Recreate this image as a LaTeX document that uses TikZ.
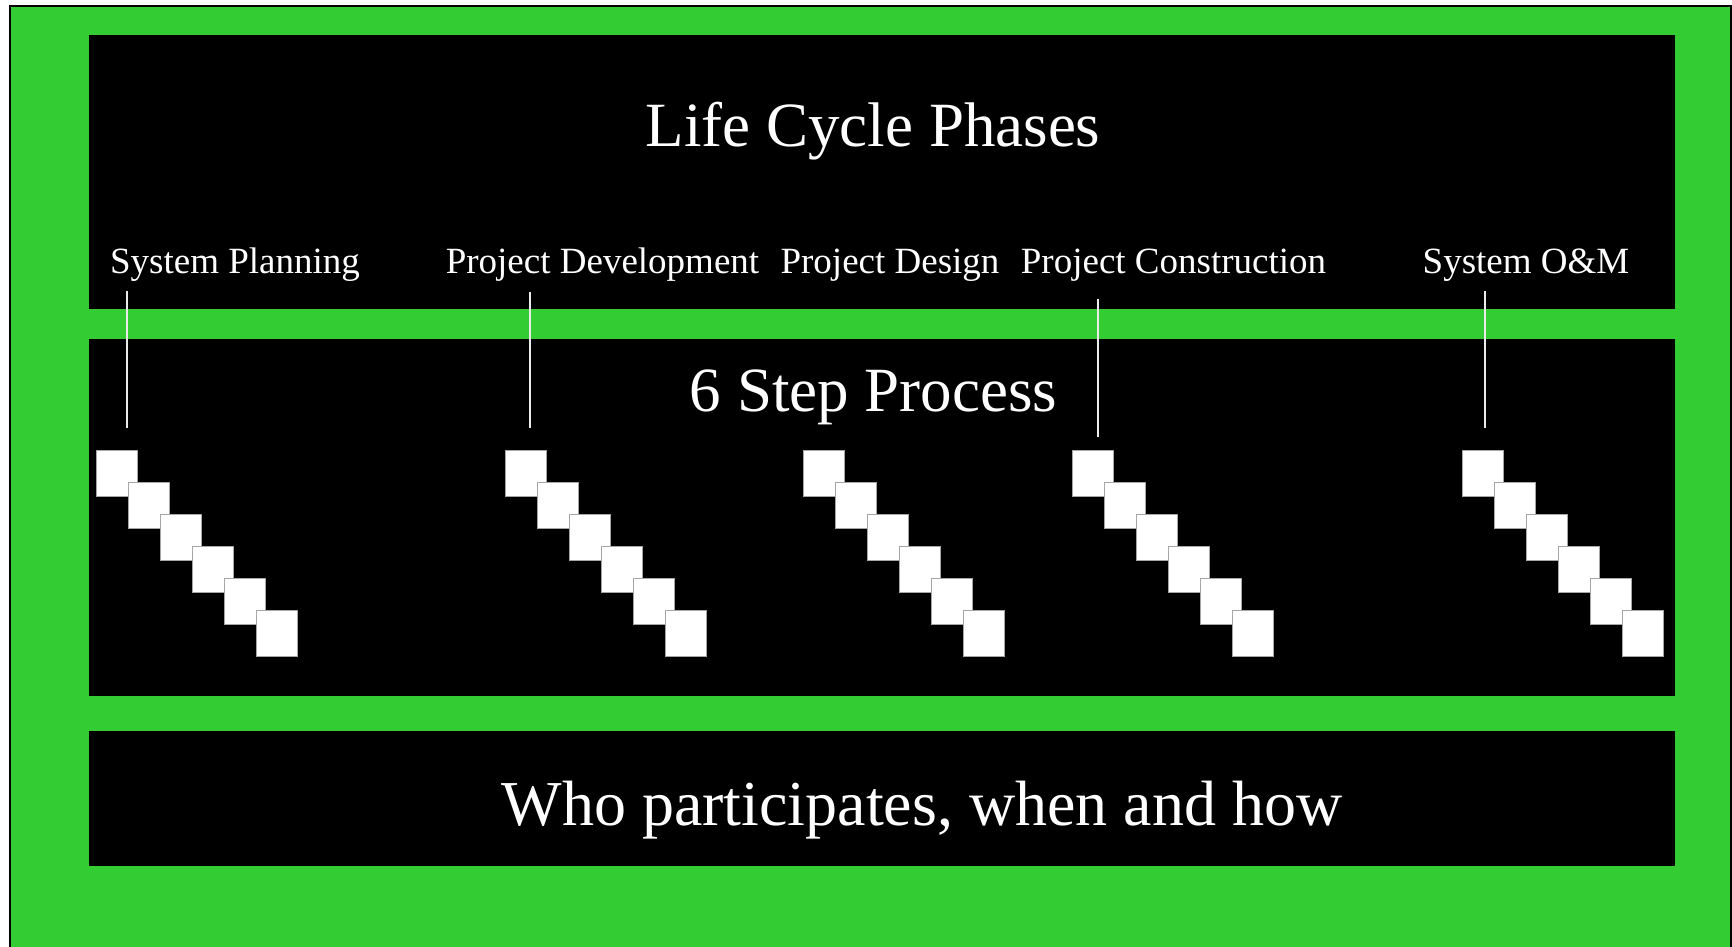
\documentclass[tikz,border=0pt]{standalone}
\usepackage{fontspec}
\setmainfont{Liberation Serif}
\definecolor{bggreen}{RGB}{51,204,51}
\begin{document}
\begin{tikzpicture}[x=1pt,y=-1pt,
  panel/.style={fill=black,draw=none},
  stepsq/.style={rectangle,fill=white,draw=black!35,line width=0.8pt,minimum width=41pt,minimum height=46pt,inner sep=0pt,anchor=north west},
  big/.style={text=white,font=\fontsize{63}{70}\selectfont,anchor=base,inner sep=0pt},
  phase/.style={text=white,font=\fontsize{37}{42}\selectfont,anchor=base,inner sep=0pt},
  tick/.style={draw=white!92!black,line width=2pt}]
\useasboundingbox (0,0) rectangle (1732,947);
\fill[white] (0,0) rectangle (1732,947);
\draw[fill=bggreen,draw=black,line width=2pt] (10,6) rectangle (1731,975);
% panels
\fill[panel] (89,35) rectangle (1675,309);
\fill[panel] (89,339) rectangle (1675,695.7);
\fill[panel] (89,730.7) rectangle (1675,866);
% squares
\foreach \g/\x in {1/96.3,2/504.8,3/803,4/1072.3,5/1461.7} {
  \foreach \i in {0,...,5} {
    \node[stepsq] (s\g-\i) at ({\x+32*\i},{450.3+32*\i}) {};
  }
}
% texts
\node[big] (title) at (873,146.7) {Life Cycle Phases};
\node[phase] (p1) at (235,273.5) {System Planning};
\node[phase] (p2) at (602.5,273.5) {Project Development};
\node[phase] (p3) at (890,273.5) {Project Design};
\node[phase] (p4) at (1173.5,273.5) {Project Construction};
\node[phase] (p5) at (1526,273.5) {System O\&M};
\node[big] (steps) at (873.5,411.7) {6 Step Process};
\node[big,font=\fontsize{64}{70}\selectfont] (who) at (922,825) {Who participates, when and how};
% ticks
\coordinate (a1) at (127,291.3);  \coordinate (b1) at (127,428.3);
\coordinate (a2) at (530,291.5);  \coordinate (b2) at (530,428.3);
\coordinate (a4) at (1098,299.3); \coordinate (b4) at (1098,436.7);
\coordinate (a5) at (1484.7,291.3); \coordinate (b5) at (1484.7,428.3);
\draw[tick] (a1) -- (b1);
\draw[tick] (a2) -- (b2);
\draw[tick] (a4) -- (b4);
\draw[tick] (a5) -- (b5);
\end{tikzpicture}
\end{document}
